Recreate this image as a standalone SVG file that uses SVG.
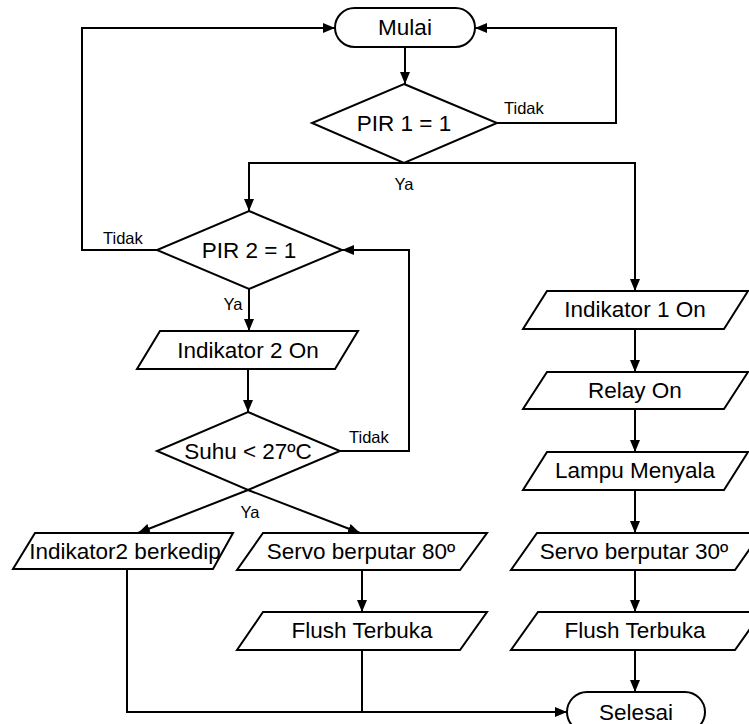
<svg xmlns="http://www.w3.org/2000/svg" width="749" height="724" viewBox="0 0 749 724">
<defs>
<marker id="arr" markerUnits="userSpaceOnUse" markerWidth="12" markerHeight="10" refX="12" refY="5" orient="auto">
<path d="M0,0 L12,5 L0,10 z" fill="#000"/>
</marker>
<style>
.s{fill:#fff;stroke:#000;stroke-width:2}
.c{fill:none;stroke:#000;stroke-width:2}
.t{font-family:"Liberation Sans",Arial,sans-serif;font-size:22.5px;fill:#000;text-anchor:middle}
.l{font-family:"Liberation Sans",Arial,sans-serif;font-size:16.5px;fill:#000}
</style>
</defs>
<rect width="749" height="724" fill="#fff"/>
<g id="connectors">
<path class="c" d="M157,250 H82 V28 H335" marker-end="url(#arr)"/>
<path class="c" d="M497,123 H616 V28 H475" marker-end="url(#arr)"/>
<path class="c" d="M405,47 V84" marker-end="url(#arr)"/>
<path class="c" d="M404,163 H249 V211" marker-end="url(#arr)"/>
<path class="c" d="M404,163 H635 V291" marker-end="url(#arr)"/>
<path class="c" d="M249,289 V331" marker-end="url(#arr)"/>
<path class="c" d="M248,369 V412" marker-end="url(#arr)"/>
<path class="c" d="M340,451 H409 V250 H342" marker-end="url(#arr)"/>
<path class="c" d="M248,490 L138,533" marker-end="url(#arr)"/>
<path class="c" d="M248,490 L360,533" marker-end="url(#arr)"/>
<path class="c" d="M362,570 V612" marker-end="url(#arr)"/>
<path class="c" d="M362,650 V712"/>
<path class="c" d="M127,569 V712 H567" marker-end="url(#arr)"/>
<path class="c" d="M635,329 V372" marker-end="url(#arr)"/>
<path class="c" d="M635,409 V452" marker-end="url(#arr)"/>
<path class="c" d="M635,490 V533" marker-end="url(#arr)"/>
<path class="c" d="M635,570 V612" marker-end="url(#arr)"/>
<path class="c" d="M635,650 V692" marker-end="url(#arr)"/>
<text class="l" x="504" y="114">Tidak</text>
<text class="l" x="404" y="190" text-anchor="middle">Ya</text>
<text class="l" x="103" y="244">Tidak</text>
<text class="l" x="233" y="310" text-anchor="middle">Ya</text>
<text class="l" x="349" y="443">Tidak</text>
<text class="l" x="250" y="518" text-anchor="middle">Ya</text>
</g>
<g id="mulai">
<rect class="s" x="335" y="8" width="140" height="39" rx="19.5"/>
<text class="t" x="405" y="35">Mulai</text>
</g>
<g id="pir1">
<polygon class="s" points="404,84 497,123 404,163 312,123"/>
<text class="t" x="404" y="131">PIR 1 = 1</text>
</g>
<g id="pir2">
<polygon class="s" points="249,211 342,250 249,289 157,250"/>
<text class="t" x="249" y="258">PIR 2 = 1</text>
</g>
<g id="indikator2on">
<polygon class="s" points="160,331 358,331 335,369 137,369"/>
<text class="t" x="248" y="358">Indikator 2 On</text>
</g>
<g id="suhu">
<polygon class="s" points="248,412 340,451 248,490 157,451"/>
<text class="t" x="248" y="459">Suhu &lt; 27ºC</text>
</g>
<g id="indikator2berkedip">
<polygon class="s" points="35,533 233,533 213,569 13,569"/>
<text class="t" x="125" y="559">Indikator2 berkedip</text>
</g>
<g id="servo80">
<polygon class="s" points="263,533 487,533 460,570 237,570"/>
<text class="t" x="361" y="559">Servo berputar 80º</text>
</g>
<g id="flush1">
<polygon class="s" points="263,612 487,612 460,650 237,650"/>
<text class="t" x="362" y="638">Flush Terbuka</text>
</g>
<g id="indikator1on">
<polygon class="s" points="547,291 748,291 724,329 523,329"/>
<text class="t" x="635" y="317">Indikator 1 On</text>
</g>
<g id="relay">
<polygon class="s" points="547,372 748,372 724,409 523,409"/>
<text class="t" x="635" y="398">Relay On</text>
</g>
<g id="lampu">
<polygon class="s" points="547,452 748,452 724,490 523,490"/>
<text class="t" x="635" y="478">Lampu Menyala</text>
</g>
<g id="servo30">
<polygon class="s" points="537,533 761,533 735,570 511,570"/>
<text class="t" x="634" y="559">Servo berputar 30º</text>
</g>
<g id="flush2">
<polygon class="s" points="538,612 762,612 735,650 511,650"/>
<text class="t" x="635" y="638">Flush Terbuka</text>
</g>
<g id="selesai">
<rect class="s" x="567" y="692" width="138" height="40" rx="20"/>
<text class="t" x="636" y="720">Selesai</text>
</g>
</svg>
